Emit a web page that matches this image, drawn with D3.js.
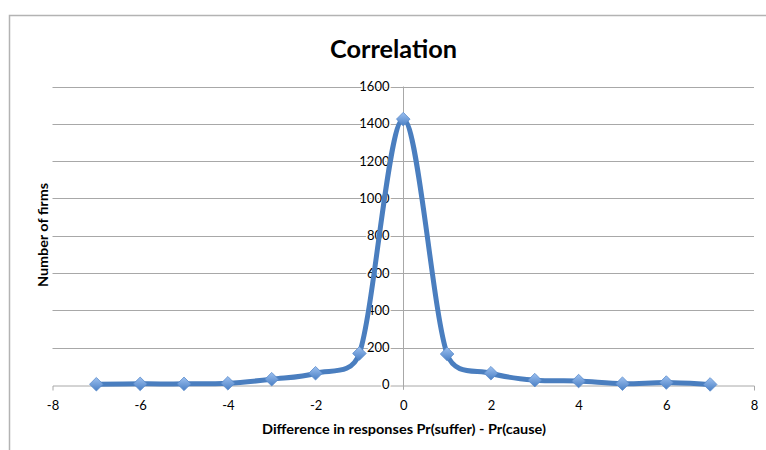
<!DOCTYPE html>
<html><head><meta charset="utf-8">
<script src="https://cdn.jsdelivr.net/npm/d3@7"></script>
<style>body{margin:0;background:#fff}svg{display:block}text{font-family:Lato,"Open Sans",sans-serif;fill:#000}</style>
</head><body><svg id="c" width="766" height="450"></svg>
<script>
const xValues = [-7,-6,-5,-4,-3,-2,-1,0,1,2,3,4,5,6,7];
const firms   = [3,5,5,8,30,62,168,1425,165,62,25,20,6,12,2];
const xTicks = [-8,-6,-4,-2,0,2,4,6,8];
const yTicks = [0,200,400,600,800,1000,1200,1400,1600];
const title = "Correlation";
const xTitle = "Difference in responses Pr(suffer) - Pr(cause)";
const yTitle = "Number of firms";

const svg = d3.select("#c");
const x = d3.scaleLinear().domain([-8,8]).range([52.5,754]);
const y = d3.scaleLinear().domain([0,1600]).range([384.8,86.5]);

// chart border
svg.append("path").attr("d","M9.5,450 V15.5 H770").attr("fill","none").attr("stroke","#b3b3b3").attr("stroke-width",1.5);

const defs = svg.append("defs");
const g = defs.append("linearGradient").attr("id","mk").attr("x1","0").attr("y1","0").attr("x2","0").attr("y2","1");
g.append("stop").attr("offset","0").attr("stop-color","#9cc0f0");
g.append("stop").attr("offset","1").attr("stop-color","#4a7fc4");

// gridlines
svg.append("g").selectAll("line").data(yTicks.filter(d=>d>0)).join("line")
  .attr("x1",x(-8)).attr("x2",x(8)).attr("y1",d=>Math.round(y(d))+0.5).attr("y2",d=>Math.round(y(d))+0.5)
  .attr("stroke","#a8a8a8").attr("stroke-width",1);

// x axis
const xAxis = svg.append("g").attr("transform",`translate(0,${Math.round(y(0))+0.5})`)
  .call(d3.axisBottom(x).tickValues(xTicks).tickSizeInner(0).tickSizeOuter(5).tickPadding(15).tickFormat(d=>String(d)));
xAxis.select(".domain").attr("stroke","#a8a8a8");
xAxis.selectAll("text").attr("font-size",13).attr("font-family","Lato").attr("dy","0.3em").attr("y",21);

// y axis
const yAxis = svg.append("g").attr("transform",`translate(${Math.round(x(0))+0.5},0)`)
  .call(d3.axisLeft(y).tickValues(yTicks).tickSizeInner(0).tickSizeOuter(0).tickPadding(14).tickFormat(d=>String(d)));
yAxis.select(".domain").remove();
yAxis.append("line").attr("y1",y(1600)).attr("y2",y(0)+5).attr("stroke","#a8a8a8");
yAxis.selectAll("text").attr("font-size",13).attr("font-family","Lato").attr("fill","#000");
yAxis.selectAll(".tick text").attr("stroke","#fff").attr("stroke-width",3).attr("paint-order","stroke");

// Excel-style smoothed line (Bezier, tension 1/6 with handle clamping)
const P = xValues.map((v,i)=>[x(v), y(firms[i])]);
function excelSmooth(p){
  const path = d3.path();
  const dist=(a,b)=>Math.hypot(b[0]-a[0],b[1]-a[1]);
  path.moveTo(p[0][0],p[0][1]);
  for(let i=0;i<p.length-1;i++){
    const p0 = p[Math.max(i-1,0)], p1=p[i], p2=p[i+1], p3=p[Math.min(i+2,p.length-1)];
    const d12 = dist(p1,p2);
    const d02 = dist(p0,p2), d13 = dist(p1,p3);
    let f1 = 1/6, f2 = 1/6;
    if (d02/6 > d12/2) f1 = d12/(2*d02);
    if (d13/6 > d12/2) f2 = d12/(2*d13);
    const c1 = [p1[0]+(p2[0]-p0[0])*f1, p1[1]+(p2[1]-p0[1])*f1];
    const c2 = [p2[0]-(p3[0]-p1[0])*f2, p2[1]-(p3[1]-p1[1])*f2];
    path.bezierCurveTo(c1[0],c1[1],c2[0],c2[1],p2[0],p2[1]);
  }
  return path.toString();
}
svg.append("path").attr("d", excelSmooth(P))
  .attr("fill","none").attr("stroke","#4a7ebf").attr("stroke-width",5).attr("stroke-linejoin","round").attr("stroke-linecap","round");

// markers
svg.append("g").selectAll("path").data(P).join("path")
  .attr("transform",d=>`translate(${d[0]},${d[1]})`)
  .attr("d","M0,-6.8 L6.8,0 L0,6.8 L-6.8,0 Z")
  .attr("fill","url(#mk)").attr("stroke","#5a8ccc").attr("stroke-width",0.8);

// titles
svg.append("text").attr("x",393.5).attr("y",58.3).attr("text-anchor","middle")
  .attr("font-size",24).attr("font-weight","bold").attr("textLength",127).attr("lengthAdjust","spacingAndGlyphs").text(title);
svg.append("text").attr("x",404).attr("y",433.5).attr("text-anchor","middle")
  .attr("font-size",13).attr("font-weight","bold").attr("textLength",284).attr("lengthAdjust","spacingAndGlyphs").text(xTitle);
svg.append("text").attr("transform","translate(47.5,235) rotate(-90)").attr("text-anchor","middle")
  .attr("font-size",13).attr("font-weight","bold").attr("textLength",104).attr("lengthAdjust","spacingAndGlyphs").text(yTitle);
</script></body></html>
